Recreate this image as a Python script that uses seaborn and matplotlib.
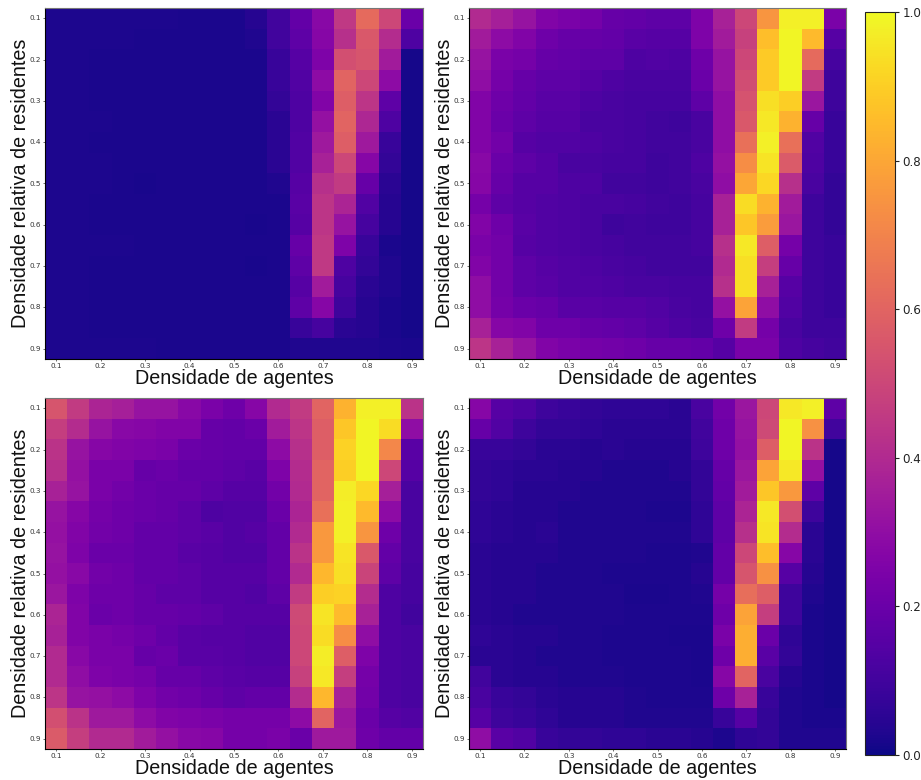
import numpy as np
import pandas as pd
import matplotlib
matplotlib.use("Agg")
import matplotlib.pyplot as plt
import seaborn as sns

densities = ["0.1","0.15","0.2","0.25","0.3","0.35","0.4","0.45","0.5","0.55","0.6","0.65","0.7","0.75","0.8","0.85","0.9"]
x_label = "Densidade de agentes"
y_label = "Densidade relativa de residentes"
cbar_ticks = [0.0, 0.2, 0.4, 0.6, 0.8, 1.0]

panel_a = [
[.025,.025,.025,.025,.025,.025,.02,.02,.02,.04,.10,.18,.28,.45,.62,.50,.20],
[.025,.025,.025,.025,.02,.02,.02,.02,.02,.03,.10,.17,.27,.42,.56,.41,.13],
[.025,.025,.02,.02,.02,.02,.02,.02,.02,.02,.08,.15,.25,.53,.55,.35,.015],
[.025,.025,.02,.02,.02,.02,.02,.02,.02,.02,.08,.14,.29,.60,.50,.29,.015],
[.025,.025,.02,.02,.02,.02,.02,.02,.02,.02,.07,.13,.26,.58,.44,.17,.015],
[.025,.025,.025,.02,.02,.02,.02,.02,.02,.02,.05,.13,.31,.60,.39,.13,.015],
[.025,.025,.02,.02,.02,.02,.02,.02,.02,.02,.05,.14,.34,.58,.34,.08,.015],
[.025,.025,.025,.02,.02,.02,.02,.02,.02,.02,.05,.14,.37,.50,.27,.07,.015],
[.025,.025,.025,.02,.018,.02,.02,.02,.02,.02,.03,.15,.42,.46,.19,.05,.015],
[.025,.025,.02,.02,.02,.02,.02,.02,.02,.02,.02,.16,.44,.38,.14,.04,.015],
[.025,.025,.02,.02,.02,.02,.02,.02,.02,.018,.02,.15,.44,.32,.11,.04,.015],
[.025,.025,.025,.025,.02,.02,.02,.02,.02,.02,.02,.19,.45,.25,.08,.02,.015],
[.025,.025,.02,.02,.02,.02,.02,.02,.02,.018,.02,.17,.45,.13,.07,.03,.015],
[.025,.025,.02,.02,.02,.02,.02,.02,.02,.02,.02,.15,.35,.11,.05,.03,.015],
[.025,.025,.02,.02,.02,.02,.02,.02,.02,.02,.02,.17,.27,.09,.04,.02,.015],
[.025,.025,.02,.02,.02,.02,.02,.02,.02,.02,.02,.08,.11,.05,.04,.02,.015],
[.025,.025,.025,.025,.025,.02,.02,.02,.02,.02,.02,.03,.03,.03,.03,.025,.02],
]
panel_b = [
[.40,.36,.32,.26,.24,.23,.19,.18,.17,.17,.25,.37,.50,.75,.98,.98,.24],
[.35,.29,.26,.21,.19,.19,.18,.16,.15,.15,.25,.35,.48,.86,.99,.85,.15],
[.32,.24,.23,.19,.18,.17,.17,.13,.14,.13,.21,.32,.50,.89,.99,.62,.11],
[.30,.23,.19,.17,.17,.15,.13,.12,.12,.12,.20,.32,.52,.89,.99,.46,.09],
[.26,.21,.18,.16,.16,.13,.12,.11,.11,.11,.17,.30,.54,.94,.90,.33,.09],
[.26,.20,.17,.15,.15,.12,.12,.11,.10,.09,.12,.30,.56,.96,.83,.19,.08],
[.26,.22,.15,.14,.14,.13,.12,.11,.10,.10,.12,.30,.64,.98,.64,.14,.08],
[.28,.20,.17,.15,.12,.12,.11,.11,.09,.10,.13,.31,.73,.95,.57,.13,.08],
[.27,.19,.15,.15,.13,.13,.10,.10,.09,.10,.12,.30,.80,.92,.42,.12,.07],
[.23,.17,.15,.14,.13,.12,.12,.11,.10,.09,.11,.37,.93,.83,.35,.09,.07],
[.26,.21,.16,.14,.13,.12,.09,.10,.09,.09,.11,.37,.88,.77,.33,.09,.07],
[.24,.22,.15,.14,.13,.12,.11,.10,.10,.10,.11,.42,.96,.58,.23,.09,.08],
[.26,.22,.17,.15,.14,.13,.12,.11,.10,.10,.10,.40,.94,.47,.19,.09,.08],
[.30,.22,.17,.16,.14,.14,.13,.12,.12,.11,.11,.42,.94,.37,.15,.09,.08],
[.30,.23,.20,.19,.16,.16,.15,.15,.14,.12,.11,.31,.79,.30,.14,.09,.08],
[.37,.27,.26,.21,.21,.19,.18,.17,.15,.13,.12,.21,.46,.23,.12,.09,.09],
[.44,.37,.32,.26,.24,.23,.22,.21,.19,.19,.18,.15,.24,.24,.13,.11,.10],
]
panel_c = [
[.55,.46,.38,.36,.32,.32,.28,.24,.21,.27,.40,.46,.60,.83,.98,.98,.43],
[.47,.41,.32,.28,.27,.26,.26,.19,.18,.20,.35,.44,.58,.88,.99,.93,.30],
[.43,.32,.27,.26,.25,.24,.20,.19,.18,.18,.29,.42,.58,.91,.99,.71,.16],
[.42,.31,.24,.24,.19,.20,.18,.18,.17,.16,.25,.41,.60,.90,.99,.50,.15],
[.37,.32,.24,.22,.20,.19,.19,.17,.15,.15,.22,.40,.60,.97,.92,.36,.12],
[.32,.27,.23,.21,.20,.19,.17,.13,.14,.14,.20,.38,.64,.98,.85,.29,.12],
[.31,.26,.22,.21,.18,.18,.17,.16,.14,.15,.18,.40,.76,.98,.75,.21,.12],
[.32,.25,.20,.20,.18,.18,.16,.15,.14,.14,.18,.43,.76,.95,.56,.18,.12],
[.31,.28,.22,.21,.18,.18,.17,.15,.15,.15,.18,.40,.84,.94,.49,.17,.11],
[.33,.25,.21,.21,.19,.17,.17,.15,.15,.14,.17,.46,.90,.91,.41,.13,.11],
[.38,.26,.20,.21,.19,.19,.18,.17,.15,.15,.15,.51,.95,.85,.37,.13,.10],
[.37,.26,.24,.23,.21,.18,.16,.15,.15,.14,.14,.50,.93,.73,.30,.13,.12],
[.40,.28,.24,.24,.19,.20,.16,.16,.15,.14,.14,.50,.97,.58,.25,.13,.12],
[.40,.30,.25,.24,.23,.19,.19,.17,.16,.15,.15,.48,.96,.47,.23,.13,.12],
[.44,.32,.31,.29,.25,.22,.21,.19,.17,.18,.18,.41,.84,.37,.22,.13,.12],
[.53,.43,.34,.34,.29,.26,.25,.24,.23,.23,.23,.29,.60,.33,.20,.15,.14],
[.57,.47,.40,.40,.35,.31,.28,.27,.23,.23,.24,.20,.34,.34,.21,.18,.18],
]
panel_d = [
[.27,.15,.13,.09,.08,.07,.06,.06,.06,.05,.12,.22,.33,.50,.96,.98,.17],
[.19,.14,.09,.07,.07,.06,.05,.05,.05,.05,.10,.21,.32,.51,.99,.74,.10],
[.08,.08,.07,.05,.05,.04,.05,.04,.04,.04,.09,.21,.31,.58,.99,.43,.015],
[.07,.06,.05,.05,.04,.04,.03,.03,.03,.04,.07,.19,.33,.79,.96,.31,.015],
[.07,.06,.04,.04,.04,.03,.03,.03,.03,.03,.07,.18,.35,.88,.76,.17,.015],
[.06,.05,.04,.04,.03,.03,.03,.03,.025,.025,.06,.17,.38,.96,.53,.09,.015],
[.06,.05,.04,.05,.03,.03,.03,.03,.03,.03,.06,.17,.42,.95,.41,.05,.015],
[.05,.04,.04,.04,.03,.03,.03,.03,.025,.025,.03,.18,.50,.86,.27,.05,.015],
[.05,.04,.04,.03,.03,.03,.025,.025,.025,.025,.04,.18,.55,.74,.15,.04,.012],
[.05,.04,.04,.03,.03,.03,.03,.02,.02,.025,.03,.23,.63,.58,.09,.03,.012],
[.05,.04,.03,.03,.03,.03,.03,.025,.025,.025,.025,.21,.79,.47,.09,.02,.012],
[.06,.05,.04,.04,.03,.03,.025,.025,.025,.02,.02,.24,.82,.20,.06,.02,.012],
[.05,.05,.04,.03,.03,.03,.025,.025,.025,.025,.02,.21,.82,.16,.07,.02,.012],
[.10,.05,.04,.04,.03,.03,.03,.025,.025,.025,.02,.27,.60,.12,.04,.02,.012],
[.12,.08,.07,.05,.04,.04,.04,.03,.025,.025,.025,.21,.37,.08,.03,.02,.012],
[.15,.09,.08,.06,.04,.04,.04,.03,.03,.03,.03,.08,.15,.07,.03,.02,.02],
[.30,.16,.14,.08,.07,.07,.06,.06,.05,.05,.04,.025,.06,.07,.03,.03,.03],
]

sns.set_style("white")
W, H = 921, 780
fig = plt.figure(figsize=(W / 100, H / 100), dpi=100)

def box(x0, y0, x1, y1):
    return [x0 / W, 1 - y1 / H, (x1 - x0) / W, (y1 - y0) / H]

boxes = [box(45, 8, 423, 359), box(469, 8, 846, 359),
         box(45, 398, 423, 749), box(469, 398, 846, 749)]
cax = fig.add_axes(box(865, 12, 895, 755))
panels = [panel_a, panel_b, panel_c, panel_d]
cb = None

for i, (data, b) in enumerate(zip(panels, boxes)):
    ax = fig.add_axes(b)
    df = pd.DataFrame(data, index=densities, columns=densities)
    sns.heatmap(df, ax=ax, cmap="plasma", vmin=0, vmax=1, square=False,
                xticklabels=2, yticklabels=2,
                cbar=(i == 0), cbar_ax=cax if i == 0 else None)
    if i == 0:
        cb = ax.collections[0].colorbar
    ax.tick_params(axis="both", labelsize=5.2, length=1.5, width=0.5, pad=1.5,
                   colors="#333333", left=True, bottom=True)
    ax.set_xticklabels(ax.get_xticklabels(), rotation=0, family="DejaVu Sans")
    ax.set_yticklabels(ax.get_yticklabels(), rotation=0, family="DejaVu Sans")
    ax.set_xlabel(x_label, fontsize=14.2, family="Liberation Sans", labelpad=0, color="#111111")
    ax.set_ylabel(y_label, fontsize=14.2, family="Liberation Sans", labelpad=-0.5, color="#111111")
    for side, s in ax.spines.items():
        s.set_visible(True)
        s.set_linewidth(0.8)
        s.set_color("black" if side in ("left", "bottom") else "#777777")

cb.set_ticks(cbar_ticks)
cb.ax.tick_params(labelsize=8.6, length=3, width=0.8, pad=2.5, colors="#222222")
for t in cb.ax.get_yticklabels():
    t.set_family("DejaVu Sans")
cb.outline.set_visible(True)
cb.outline.set_edgecolor("#222222")
cb.outline.set_linewidth(0.8)

fig.savefig("out.png", dpi=100)
